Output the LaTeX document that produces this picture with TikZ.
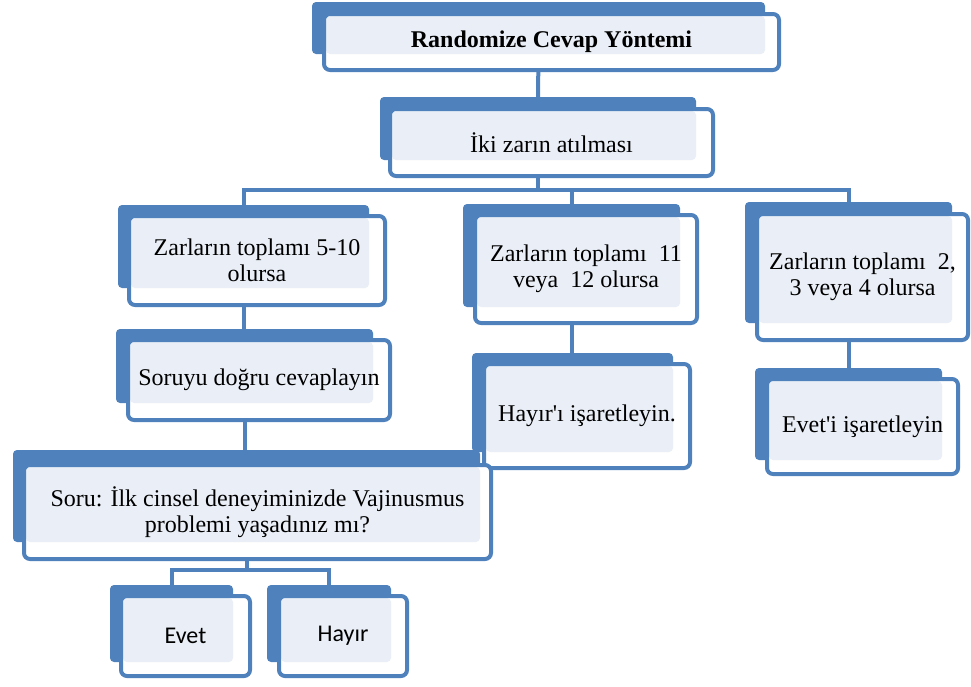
\documentclass[tikz,border=0pt]{standalone}
\usepackage{fontspec}
\setmainfont{Liberation Serif}
\newfontfamily\calfont{Carlito}
\usetikzlibrary{backgrounds}
\definecolor{boxblue}{RGB}{79,129,189}
\definecolor{boxlight}{RGB}{234,239,247}
\tikzset{
  backbox/.style={fill=boxblue, rounded corners=4pt, inner sep=0pt, outer sep=0pt, draw=none},
  frontbox/.style={draw=boxblue, line width=4pt, rounded corners=6pt, inner sep=0pt, outer sep=0pt,
    align=center, font=\fontsize{24}{26}\selectfont},
  conn/.style={draw=boxblue, line width=4pt},
}
\newcommand\boxtxt{}
% #1 name, #2-#5 back box (x1,y1,x2,y2), #6-#9 front box outer edges (x1,y1,x2,y2)
\newcommand\mkbox[9]{%
  \node[backbox, minimum width={#4-#2}, minimum height={#5-#3}] (#1b) at ({(#2+#4)/2},{(#3+#5)/2}) {};
  \fill[white, rounded corners=6pt] ({#6+2},{#7+2}) rectangle ({#8-2},{#9-2});
  \fill[boxlight, rounded corners=4pt] ({#6+4},{#7+4}) rectangle (#4,#5);
  \node[frontbox, minimum width={#8-#6-4}, minimum height={#9-#7-4}] (#1) at ({(#6+#8)/2},{(#7+#9)/2}) {\boxtxt};
}
\begin{document}
\begin{tikzpicture}[x=1pt,y=-1pt]
\useasboundingbox (0,0) rectangle (971,686);

\renewcommand\boxtxt{\textbf{Randomize Cevap Yöntemi}}
\mkbox{t1}{312}{2}{765}{54}{322}{12}{781}{72}
\renewcommand\boxtxt{İki zarın atılması}
\mkbox{t2}{380}{97}{696}{160}{388}{107}{715}{178}
\renewcommand\boxtxt{Zarların toplamı 5-10\\olursa}
\mkbox{c1}{118}{205}{369}{288}{127}{214}{387}{307}
\renewcommand\boxtxt{Zarların toplamı\ \ 11\\veya\ \ 12 olursa}
\mkbox{c2}{463}{204}{680}{307}{473}{213}{699}{325}
\renewcommand\boxtxt{Zarların toplamı\ \ 2,\\ 3 veya 4 olursa}
\mkbox{c3}{745}{202}{952}{323}{755}{212}{970}{342}
\renewcommand\boxtxt{Soruyu doğru cevaplayın}
\mkbox{d1}{116}{329}{373}{403}{126}{338}{392}{422}
\renewcommand\boxtxt{Hayır\textquotesingle ı işaretleyin.}
\mkbox{d2}{472}{353}{673}{452}{482}{362}{692}{470}
\renewcommand\boxtxt{Evet\textquotesingle i işaretleyin}
\mkbox{d3}{755}{368}{942}{460}{765}{377}{960}{476}
\renewcommand\boxtxt{Soru: İlk cinsel deneyiminizde Vajinusmus\\problemi yaşadınız mı?}
\mkbox{e1}{13}{450}{480}{542}{22}{463}{493}{561}
\renewcommand\boxtxt{{\calfont Evet}}
\mkbox{f1}{110}{585}{233}{662}{119}{594}{252}{678}
\renewcommand\boxtxt{{\calfont Hayır}}
\mkbox{f2}{267}{585}{391}{662}{277}{594}{409}{678}

\coordinate (barA) at (538,190);
\coordinate (barB) at (246.5,570);
\begin{pgfonlayer}{background}
\draw[conn] (t1b.south) -- (t2b.north);
\draw[conn] (t2b.south) -- (barA) -| (c1b.north);
\draw[conn] (barA) -| (c2b.north);
\draw[conn] (barA) -| (c3b.north);
\draw[conn] (c1b.south) -- (c1b.south |- d1b.north);
\draw[conn] (c2b.south) -- (c2b.south |- d2b.north);
\draw[conn] (c3b.south) -- (c3b.south |- d3b.north);
\draw[conn] (d1b.south) -- (d1b.south |- e1b.north);
\draw[conn] (e1b.south) -- (barB) -| (f1b.north);
\draw[conn] (barB) -| (f2b.north);
\end{pgfonlayer}
\end{tikzpicture}
\end{document}
